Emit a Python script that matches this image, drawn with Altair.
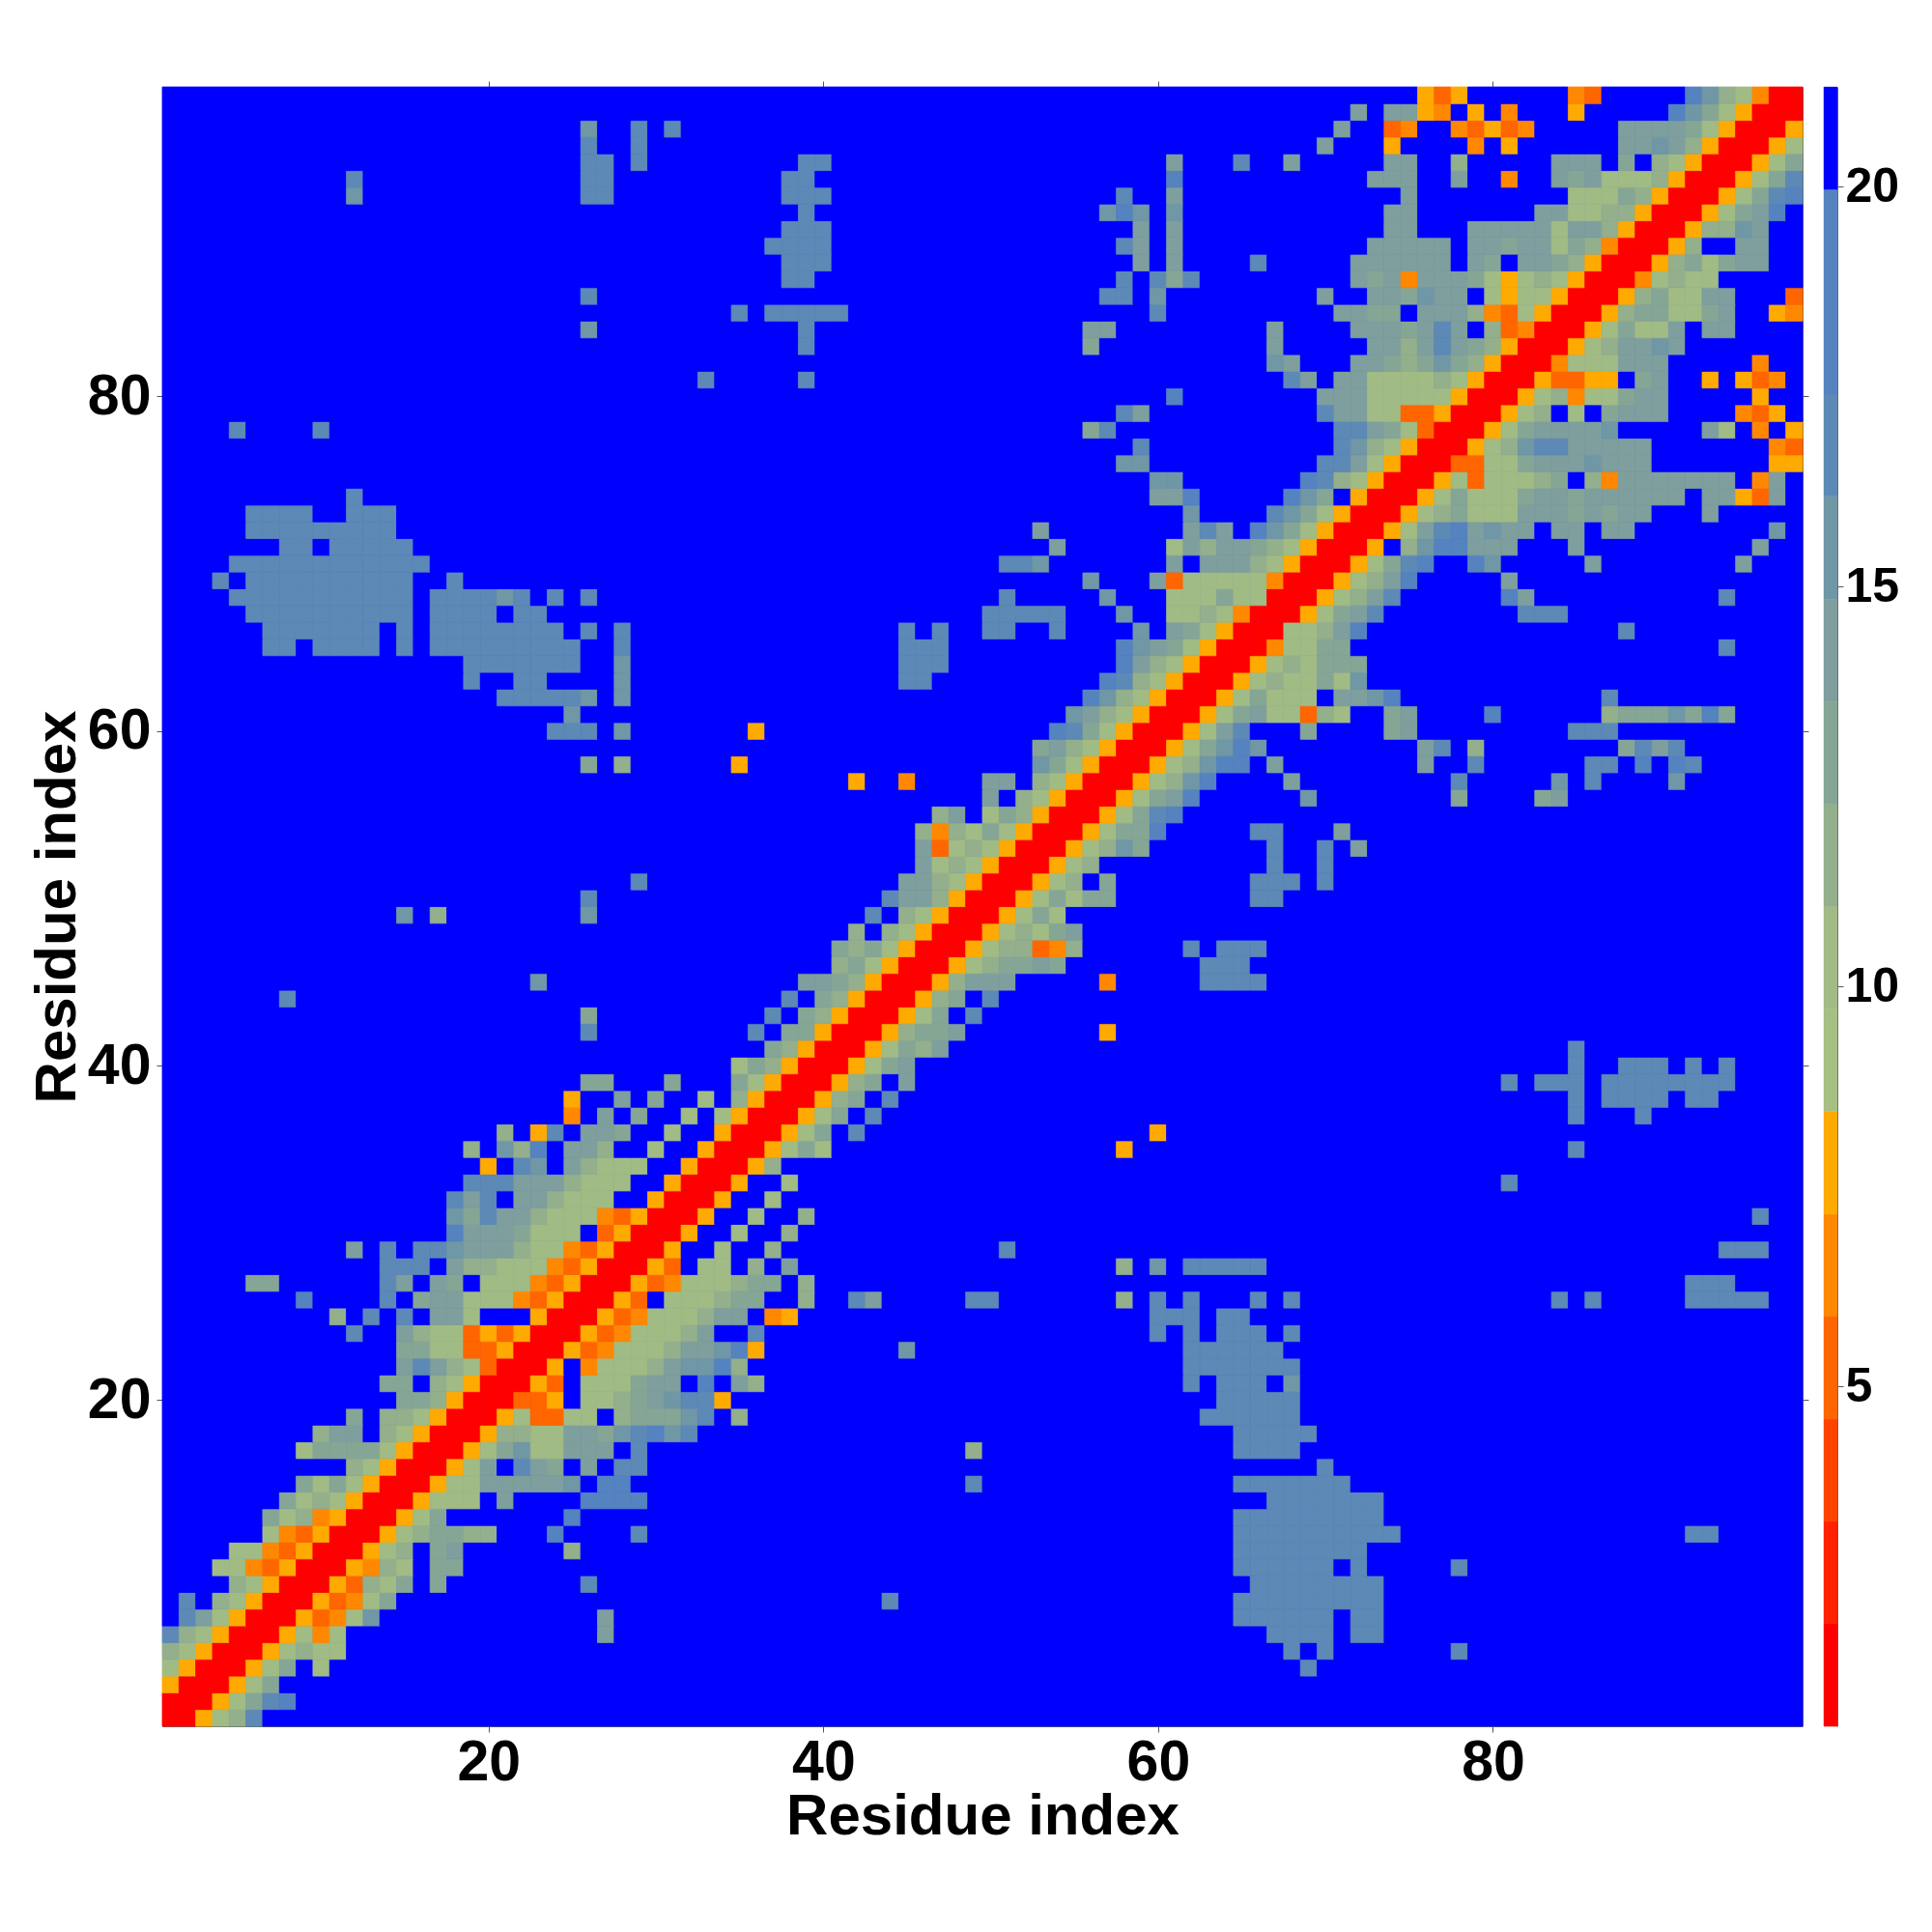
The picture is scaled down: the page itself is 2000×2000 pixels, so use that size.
import altair as alt
import pandas as pd

N_RESIDUES = 98
BAND_EDGES = [0.75, 2.03, 3.31, 4.59, 5.88, 7.16, 8.44, 9.72, 11.0, 12.28, 13.56, 14.84, 16.13, 17.41, 18.69, 19.97, 21.25]
BAND_COLORS = ["#ff0000", "#ff2200", "#ff4400", "#ff6600", "#ff8800", "#ffaa00", "#a6bf83", "#a1bb85",
               "#93af8c", "#86a695", "#7e9f9d", "#7097a5", "#5d89b6", "#5583bf", "#5583bf", "#0000ff"]
LEVEL_CODES = "0123456789abcdef"
TICKS = [20, 40, 60, 80]
CB_TICKS = [5, 10, 15, 20]
TITLE = "Residue index"

# One entry per row (residue 1 .. 98): "start:codes" runs, anything unlisted is blue (f)
ROWS = [
"1:00578c",
"1:000579cd",
"1:5000579",
"1:75000579 10:7 69:c",
"1:87500057877 68:c 70:c 78:c",
"1:c8750005747 27:a 67:cccc 72:cc",
"2:ca750005347b 27:a 65:cccccc 72:cc",
"2:c 4:87500053479 44:c 65:ccccccccc",
"5:87500053879 17:9 26:c 66:cccccccc",
"4:774350005487 17:99 65:cccccc 72:c 78:c",
"5:77435000578 17:9a 25:8 65:cccccccc",
"7:74350005789988 24:d 29:c 65:cccccccccc 92:cc",
"7:97845000579 25:d 65:ccccccccc",
"8:978750005777 21:a 26:dddd 67:ccccccc",
"9:97975000577aaaaab 27:dd 49:c 65:ccccccc",
"12:87500057a 22:ca9 26:a 28:cc 70:c",
"9:7999975000579b77aaa 29:c 49:8 65:cccc",
"10:8aa 14:8750005 21:8877aa9bcdbc 65:ccccc",
"12:9 14:8875000573377 28:8999bc 35:8 63:cccccc",
"15:9985000335 26:7789abcc5 64:ccccc",
"14:99 17:87500053 26:7779aa 33:d 35:a8 62:c 64:ccc 68:b",
"15:aca8730005 26:47778abbd8 62:ccccccc",
"15:9977335000534777 31:8aabd5 45:b 62:cccccc",
"12:c 15:a87735350005347778a 36:c 60:c 62:c 64:ccc 68:c",
"11:8 13:c 15:c 17:aa7 23:5000534777 33:8aa 37:45 60:ccc 64:cc",
"9:d 14:c 16:9aa77743500053 31:777899 39:8 42:ca 49:cc 58:8 60:c 62:c 66:c 68:c 84:c 86:c 92:ccccc",
"6:99 14:ca 17:a9 20:777435000534777899 39:8 92:ccc",
"14:ccc 18:a8877743500053 33:77 36:8 38:a 58:8 60:b 62:ccccc",
"12:a 14:c 16:ccbaaa8774350005 34:7 37:8 51:c 94:ccc",
"18:daaa9777 27:350005 35:7 38:8",
"18:b9caa87774350005 36:7 39:8 96:c",
"18:cac 22:aa8777 30:50005 37:7",
"19:cccaaa8777 31:50005 38:7 81:c",
"20:5 22:cb 25:a8777 32:50005 37:8",
"19:8 21:b8d 25:aa8 30:7 33:50005 38:797 58:5 85:c",
"21:8 23:5c 26:aa9 31:7 34:5000579 42:c 60:5",
"25:4 27:a 29:9 32:7 34:75000579 43:c 85:c 89:c",
"25:5 28:a 30:9 33:7 35:85000589 44:c 85:c 87:cccc 92:cc",
"26:99 31:9 35:975000589 45:a 81:c 83:ccc 87:cccccccc",
"35:7985000579a 85:c 88:ccc 92:c 94:c",
"37:9850005798a 85:c",
"26:c 36:c 38:99500058 46:99a 57:5",
"26:9 37:c 39:985000579 49:c",
"8:c 38:c 40:985000589 50:c",
"23:b 39:aa98500058aaa 57:4 63:cccc",
"41:89750005 49:7899a9 63:ccc",
"41:98975000 49:578834 55:8 62:c 64:ccc",
"42:8 44:87500057879a",
"15:b 17:8 26:b 43:c 45:8750005797",
"26:c 44:caa85000579799 66:cc",
"29:c 45:aa875000578 57:9 66:ccc 70:c",
"46:a7875000578 67:c 70:c",
"46:a37875000578b9 67:c 70:c 72:a",
"46:8487975000 56:5799d 66:cc 71:a",
"47:8a 50:79850005 58:79cd",
"50:a 52:875000579ad 69:b 78:9 83:9a",
"42:5 45:4 50:aa 53:875000578bd 68:a 78:c 84:b 86:c 91:b",
"26:9 28:8 35:5 53:b975000578bdd 67:a 76:a 79:c 86:cc 89:d 91:dc",
"53:9a875000579bdb 76:ac 79:8 88:9cac",
"24:ccc 28:b 36:5 54:dc975000 62:57ac 69:9 74:9a 85:ccc",
"25:b 55:ba875000579a77387 74:9a 80:d 87:8999b9d9",
"21:cccccb 28:b 56:db875000579777 71:aabd 87:c",
"19:c 22:cc 28:b 45:cc 57:dc8750005787797b",
"19:ccccccc 28:b 45:ccc 58:da8750005787999",
"7:cc 10:cccc 15:c 17:ccccccccc 28:c 45:ccc 58:dba97500047799 94:c",
"7:ccccccc 15:c 17:cccccccc 26:c 28:c 45:c 47:c 50:cc 54:c 59:b 61:a975000778ad 88:c",
"6:cccccccccc 17:cccc 22:cc 50:ccccc 58:b 61:7787400057 71:9ac 82:ccc",
"5:ccccccccccc 17:ccccbc 24:c 26:c 51:c 57:b 61:777977000578ac 81:da 94:c",
"4:c 6:cccccccccc 18:c 56:b 60:a3 62:777774000578ad 81:a",
"5:cccccccccccc 51:ccb 61:a 63:aaa 66:875000579cd 79:db 86:a 95:a",
"8:cc 11:ccccc 54:a 61:7a8aa 66:98750005 75:8bddaaa 85:a 96:a",
"6:ccccccccc 53:a 62:aca 66:db97500057acdabaa 84:aa 87:aa 97:b",
"6:cccc 12:ccc 62:b 67:cb975000578977 79:777aaa9a9aa 93:a",
"12:c 60:aad 68:db9 72:50005797779aa9aaaaaa 93:aa53a",
"60:bb 69:dc87500057377789 86:84aaaaaaa 96:4a",
"58:bb 70:cca7500033779aaabaaa 97:55",
"59:c 71:cb875000578bccaaaaa 97:43",
"5:c 10:c 56:9c 71:cca973000579aaaab 93:a7 96:4 98:5",
"58:ca 70:caa77335000578 85:7 87:9aaa 95:435",
"61:d 70:aaa777775000 82:5784779aa 96:5",
"33:c 39:c 68:ca 71:aa7777875000 83:53355 89:9a 93:5 95:534",
"67:ba 72:aa989b985000 84:4777aaa 96:4",
"39:c 56:9 67:a 73:aa8aca985000 85:578aaba",
"26:b 39:c 56:aa 67:a 72:aaa9aca 80:834000 86:57977a 93:aa",
"35:c 37:ccccc 60:c 71:aa99 76:aaa84375000 87:58997 92:79a 97:54",
"26:c 57:cc 60:b 70:a 73:aa9baa 80:75775000 88:58977aa 98:3",
"38:cc 58:c 60:c9c 72:a9a4aaa9 80:75787500 88:047877",
"38:ccc 59:a 61:a 66:c 72:aaaaaa 79:a9 82:aa985000 90:58979aa",
"37:cccc 58:ca 61:a 73:aaaaa 79:aa9aa7984000 91:58 95:aa",
"38:ccc 59:a 61:a 74:aa 79:aaaaa7aa85000 92:588ba",
"39:c 57:bdb 61:b 74:aa 83:aa778850 90:00 92:0579ad",
"12:b 26:cc 38:ccc 58:c 61:a 75:a 85:777985000579cd",
"12:c 26:cc 38:cc 61:d 73:aaa 78:a 81:4 84:a9a777 90:85000579c",
"26:cc 29:c 39:cc 61:a 65:c 68:a 74:aa 78:8 84:aaa 88:9 90:875000579",
"26:c 29:c 70:a 74:5 79:4 81:5 88:aaba8500057",
"26:b 29:c 31:c 71:a 74:34 78:43534 88:aaaa9750005",
"72:a 74:aa54 79:5 81:4 85:5 91:db975000",
"76:535 85:43 92:db87400",
]

centers = [(BAND_EDGES[i] + BAND_EDGES[i + 1]) / 2 for i in range(16)]
records = []
for r, spec in enumerate(ROWS, start=1):
    cells = {}
    for tok in spec.split():
        start, codes = tok.split(":")
        for k, ch in enumerate(codes):
            cells[int(start) + k] = LEVEL_CODES.index(ch)
    for c in range(1, N_RESIDUES + 1):
        records.append({"x0": c - 0.5, "x1": c + 0.5, "y0": r - 0.5, "y1": r + 0.5,
                        "v": centers[cells.get(c, 15)]})
df = pd.DataFrame(records)

color_scale = alt.Scale(type="threshold", domain=BAND_EDGES[1:-1], range=BAND_COLORS)
dom = [0.5, N_RESIDUES + 0.5]
FONT = "Liberation Sans"
axis_style = dict(values=TICKS, grid=False, tickSize=6, tickColor="#555555", domainColor="#666666",
                  domainWidth=1, tickWidth=1, labelFont=FONT, labelFontWeight="bold", labelFontSize=59,
                  labelColor="black", format="d", titleFont=FONT, titleFontWeight="bold",
                  titleFontSize=60, titleColor="black")

heat = alt.Chart(df).mark_rect(strokeWidth=0.8).encode(
    x=alt.X("x0:Q", scale=alt.Scale(domain=dom, nice=False, zero=False),
            axis=alt.Axis(title=TITLE, orient="bottom", labelPadding=2, titlePadding=-3, labelFlush=False, **axis_style)),
    x2="x1:Q",
    y=alt.Y("y0:Q", scale=alt.Scale(domain=dom, nice=False, zero=False),
            axis=alt.Axis(title=TITLE, orient="left", labelPadding=6, titlePadding=0, labelFlush=False, **axis_style)),
    y2="y1:Q",
    color=alt.Color("v:Q", scale=color_scale, legend=None),
    stroke=alt.Color("v:Q", scale=color_scale, legend=None),
)

tick_df = pd.DataFrame({"t": TICKS})
frame_style = dict(values=TICKS, grid=False, labels=False, title=None, tickSize=6, tickColor="#555555",
                   domainColor="#666666", domainWidth=1, tickWidth=1)
frame = alt.Chart(tick_df).mark_point(opacity=0).encode(
    x=alt.X("t:Q", scale=alt.Scale(domain=dom, nice=False, zero=False), axis=alt.Axis(orient="top", **frame_style)),
    y=alt.Y("t:Q", scale=alt.Scale(domain=dom, nice=False, zero=False), axis=alt.Axis(orient="right", **frame_style)),
)

main = alt.layer(heat, frame).resolve_scale(x="independent", y="independent").properties(
    width=1698, height=1697, view=alt.ViewConfig(fill="#0000ff", stroke=None))

cb_df = pd.DataFrame({"lo": BAND_EDGES[:-1], "hi": BAND_EDGES[1:], "v": centers})
cbar = alt.Chart(cb_df).mark_rect(strokeWidth=0.4).encode(
    x=alt.value(0), x2=alt.value(14),
    y=alt.Y("lo:Q", scale=alt.Scale(domain=[BAND_EDGES[0], BAND_EDGES[-1]], nice=False, zero=False),
            axis=alt.Axis(orient="right", values=CB_TICKS, grid=False, title=None, tickSize=6, tickColor="#555555",
                          domainColor="#666666", labelFont=FONT, labelFontWeight="bold", labelFontSize=50,
                          labelColor="black", labelPadding=2, format="d", labelFlush=False)),
    y2="hi:Q",
    color=alt.Color("v:Q", scale=color_scale, legend=None),
    stroke=alt.Color("v:Q", scale=color_scale, legend=None),
).properties(width=14, height=1697)

chart = alt.hconcat(main, cbar, spacing=14).resolve_scale(color="independent", stroke="independent").properties(
    padding={"left": 21, "top": 75, "right": 5, "bottom": 5}
).configure(background="white")

chart.save("out.html", embed_options={"renderer": "svg", "actions": False})
